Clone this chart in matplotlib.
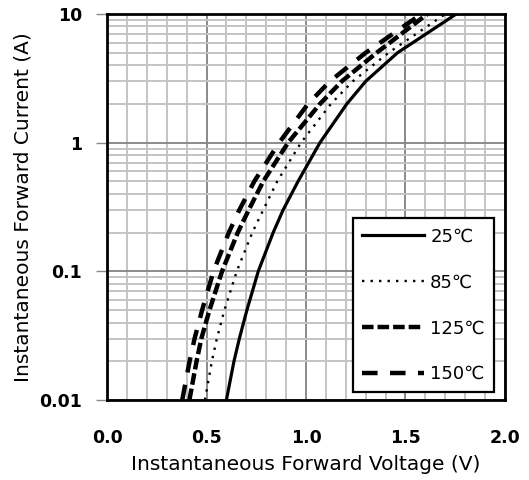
import numpy as np
import matplotlib.pyplot as plt
from matplotlib.ticker import FixedLocator, NullFormatter

plt.rcParams['font.family'] = ['DejaVu Sans']

# forward current (A) and voltage (V)
amps = [0.01, 0.02, 0.03, 0.05, 0.1, 0.2, 0.3, 0.5, 1.0, 2.0, 3.0, 5.0, 10.0]
v25 = [0.600, 0.638, 0.665, 0.703, 0.760, 0.835, 0.885, 0.960, 1.070, 1.205, 1.300, 1.460, 1.755]
v85 = [0.492, 0.527, 0.552, 0.590, 0.652, 0.730, 0.785, 0.855, 0.975, 1.125, 1.235, 1.415, 1.700]
v125 = [0.414, 0.450, 0.474, 0.515, 0.578, 0.657, 0.712, 0.785, 0.910, 1.070, 1.180, 1.355, 1.610]
v150 = [0.378, 0.415, 0.440, 0.478, 0.535, 0.612, 0.665, 0.740, 0.865, 1.010, 1.120, 1.300, 1.580]
labels = ['25℃', '85℃', '125℃', '150℃']

fig = plt.figure(figsize=(5.29, 4.8), dpi=100)
ax = fig.add_axes([0.2023, 0.1667, 0.7523, 0.8041])

ax.set_yscale('log')
ax.set_xlim(0, 2.0)
ax.set_ylim(0.01, 10)

# grid: every 0.1 V, darker at 0.5 V; log minors, darker at decades
ax.xaxis.set_minor_locator(FixedLocator(np.arange(0.1, 2.0, 0.1)))
ax.xaxis.set_major_locator(FixedLocator([0.0, 0.5, 1.0, 1.5, 2.0]))
ax.grid(which='minor', color='#c4c4c4', lw=1.4)
ax.grid(which='major', color='#8a8a8a', lw=1.4)
ax.set_axisbelow(True)

ax.plot(v25, amps, color='black', lw=2.3, label=labels[0])
ax.plot(v85, amps, color='black', lw=1.7, ls=(0, (1, 2.6)), label=labels[1])
ax.plot(v125, amps, color='black', lw=3.2, ls=(0, (2.6, 0.9)), label=labels[2])
ax.plot(v150, amps, color='black', lw=3.2, ls=(0, (3.5, 2.8)), label=labels[3])

ax.set_yticks([0.01, 0.1, 1, 10])
ax.set_yticklabels(['0.01', '0.1', '1', '10'])
ax.yaxis.set_minor_formatter(NullFormatter())
ax.set_xticks([0.0, 0.5, 1.0, 1.5, 2.0])
ax.set_xticklabels(['0.0', '0.5', '1.0', '1.5', '2.0'])
ax.tick_params(axis='y', which='major', length=8, width=1, color='#8a8a8a',
               labelsize=12.5, pad=10)
ax.tick_params(axis='y', which='minor', length=0)
ax.tick_params(axis='x', which='both', length=0, labelsize=12.5, pad=21)
for t in ax.get_xticklabels() + ax.get_yticklabels():
    t.set_fontweight('bold')

for s in ax.spines.values():
    s.set_linewidth(2)
    s.set_color('black')

ax.set_xlabel('Instantaneous Forward Voltage (V)', fontsize=14.5, labelpad=6)
ax.set_ylabel('Instantaneous Forward Current (A)', fontsize=14.5, labelpad=5)

leg = ax.legend(loc='lower right', bbox_to_anchor=(0.972, 0.02),
                fontsize=13, handlelength=3.4, labelspacing=1.55,
                handletextpad=0.35, borderpad=0.5, borderaxespad=0,
                fancybox=False, framealpha=1, edgecolor='black')
leg.get_frame().set_linewidth(1.6)

fig.savefig('out.png', dpi=100)
